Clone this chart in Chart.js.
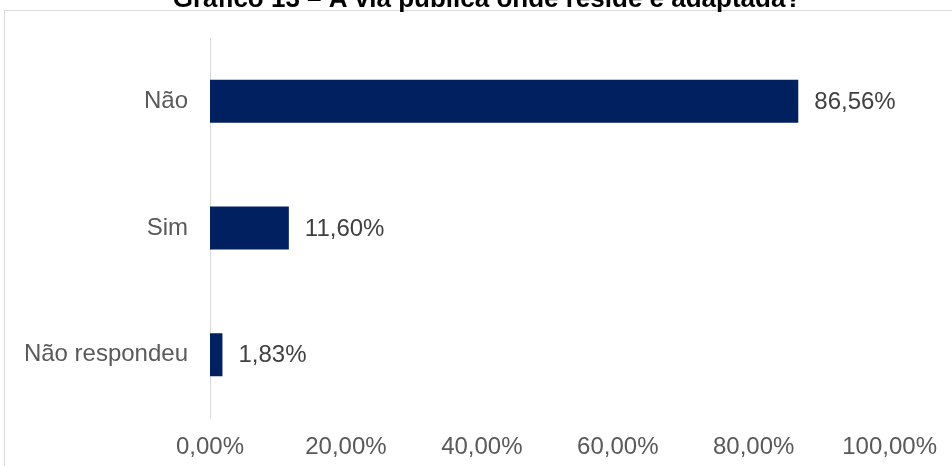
<!DOCTYPE html>
<html>
<head>
<meta charset="utf-8">
<script src="https://cdn.jsdelivr.net/npm/chart.js@4.4.1/dist/chart.umd.min.js"></script>
<style>
  html, body { margin: 0; padding: 0; background: #fff; overflow: hidden; }
  #wrap { width: 952px; height: 466px; position: relative; }
</style>
</head>
<body>
<div id="wrap"><canvas id="chart" width="952" height="466"></canvas></div>
<script>
const TITLE = "Gráfico 13 – A via pública onde reside é adaptada?";
const CATEGORIES = ["Não", "Sim", "Não respondeu"];
const VALUES = [86.56, 11.60, 1.83];
const X_TICKS = [0, 20, 40, 60, 80, 100];

const FONT = "'Liberation Sans', Arial, sans-serif";
const fmt = v => v.toFixed(2).replace(".", ",") + "%";

// frame + title (title is cropped at the top of the picture)
const framePlugin = {
  id: "frame",
  beforeDraw(chart) {
    const c = chart.ctx;
    c.save();
    c.strokeStyle = "#d9d9d9";
    c.lineWidth = 1;
    c.strokeRect(4.5, 10.5, 1000, 1000);
    c.fillStyle = "#000";
    c.font = "bold 26px " + FONT;
    c.textAlign = "center";
    c.textBaseline = "alphabetic";
    c.fillText(TITLE, 487, 7);
    c.restore();
  }
};

const labelPlugin = {
  id: "barLabels",
  afterDatasetsDraw(chart) {
    const c = chart.ctx;
    const meta = chart.getDatasetMeta(0);
    c.save();
    c.fillStyle = "#404040";
    c.font = "24px " + FONT;
    c.textAlign = "left";
    c.textBaseline = "middle";
    meta.data.forEach((bar, i) => {
      c.fillText(fmt(VALUES[i]), bar.x + 16, bar.y + 1);
    });
    c.restore();
  }
};

new Chart(document.getElementById("chart"), {
  type: "bar",
  data: {
    labels: CATEGORIES,
    datasets: [{
      data: VALUES,
      backgroundColor: "#002060",
      barPercentage: 0.34,
      categoryPercentage: 1
    }]
  },
  options: {
    indexAxis: "y",
    responsive: false,
    animation: false,
    layout: { padding: { top: 38, right: 62, left: 0, bottom: 0 } },
    plugins: {
      legend: { display: false },
      tooltip: { enabled: false },
      title: { display: false }
    },
    scales: {
      x: {
        min: 0,
        max: 100,
        afterBuildTicks(scale) { scale.ticks = X_TICKS.map(v => ({ value: v })); },
        afterFit(scale) { scale.height = 48; },
        grid: { display: false, drawTicks: false },
        border: { display: false },
        ticks: {
          padding: 15,
          color: "#595959",
          font: { family: FONT, size: 24 },
          callback: v => fmt(v)
        }
      },
      y: {
        afterFit(scale) { scale.width = 210; },
        grid: { display: false, drawTicks: false },
        border: { display: true, color: "#d9d9d9", width: 1 },
        ticks: {
          padding: 22,
          color: "#595959",
          font: { family: FONT, size: 24 }
        }
      }
    }
  },
  plugins: [framePlugin, labelPlugin]
});
</script>
</body>
</html>
